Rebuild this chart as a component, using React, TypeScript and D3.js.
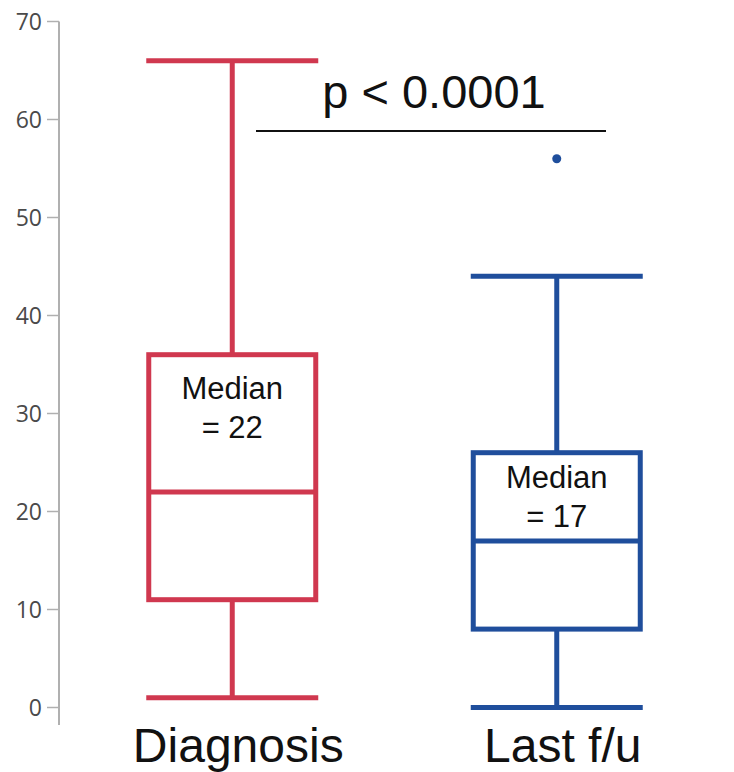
import React from "react";
import * as d3 from "d3";

// Box-plot summary for the two time points
const groups = ["Diagnosis", "Last f/u"];
const whiskerLow = [1, 0];
const q1 = [11, 8];
const medians = [22, 17];
const q3 = [36, 26];
const whiskerHigh = [66, 44];
const outliers = [[], [56]];
const colors = ["#d0384f", "#1f4e9c"];
const yTicks = [0, 10, 20, 30, 40, 50, 60, 70];
const pLabel = "p < 0.0001";

const W = 734;
const H = 772;

export default function App() {
  const y = d3.scaleLinear().domain([0, 70]).range([707.5, 21.5]);
  const x = d3.scaleBand<string>().domain(groups).range([70, 719]).padding(0);
  const bw = x.bandwidth();
  const boxW = 172;
  const axisX = 59;
  const labelOffsets = [44, 35];

  return (
    <svg
      width={W}
      height={H}
      viewBox={`0 0 ${W} ${H}`}
      style={{ position: "absolute", left: 0, top: 0, background: "#fff" }}
    >
      <rect x={0} y={0} width={W} height={H} fill="#fff" />

      {/* y axis */}
      <line x1={axisX} x2={axisX} y1={y(70)} y2={725} stroke="#b0b0b0" strokeWidth={2} />
      {yTicks.map((t) => (
        <g key={t}>
          <line x1={47} x2={axisX} y1={y(t)} y2={y(t)} stroke="#b0b0b0" strokeWidth={1.5} />
          <text
            x={42}
            y={y(t)}
            dy="0.36em"
            textAnchor="end"
            fontFamily="'Open Sans', sans-serif"
            fontSize={23}
            fill="#4a4a4a"
          >
            {t}
          </text>
        </g>
      ))}

      {/* boxes */}
      {groups.map((g, i) => {
        const cx = (x(g) as number) + bw / 2;
        const c = colors[i];
        const sw = 5;
        return (
          <g key={g}>
            <line x1={cx} x2={cx} y1={y(whiskerHigh[i])} y2={y(q3[i])} stroke={c} strokeWidth={sw} />
            <line x1={cx} x2={cx} y1={y(q1[i])} y2={y(whiskerLow[i])} stroke={c} strokeWidth={sw} />
            <line
              x1={cx - boxW / 2}
              x2={cx + boxW / 2}
              y1={y(whiskerHigh[i])}
              y2={y(whiskerHigh[i])}
              stroke={c}
              strokeWidth={sw}
            />
            <line
              x1={cx - boxW / 2}
              x2={cx + boxW / 2}
              y1={y(whiskerLow[i])}
              y2={y(whiskerLow[i])}
              stroke={c}
              strokeWidth={sw}
            />
            <rect
              x={cx - boxW / 2 + sw / 2}
              y={y(q3[i])}
              width={boxW - sw}
              height={y(q1[i]) - y(q3[i])}
              fill="#fff"
              stroke={c}
              strokeWidth={sw}
            />
            <line
              x1={cx - boxW / 2 + sw / 2}
              x2={cx + boxW / 2 - sw / 2}
              y1={y(medians[i])}
              y2={y(medians[i])}
              stroke={c}
              strokeWidth={sw}
            />
            {outliers[i].map((o, k) => (
              <circle key={k} cx={cx} cy={y(o)} r={4.5} fill={c} />
            ))}
            <text
              x={cx}
              y={y(q3[i]) + labelOffsets[i]}
              textAnchor="middle"
              fontFamily="'Liberation Sans', Arial, sans-serif"
              fontSize={31}
              fill="#111"
            >
              Median
            </text>
            <text
              x={cx}
              y={y(q3[i]) + labelOffsets[i] + 39}
              textAnchor="middle"
              fontFamily="'Liberation Sans', Arial, sans-serif"
              fontSize={31}
              fill="#111"
            >
              {`= ${medians[i]}`}
            </text>
            <text
              x={cx + 6}
              y={762}
              textAnchor="middle"
              fontFamily="'Liberation Sans', Arial, sans-serif"
              fontSize={48}
              fill="#111"
            >
              {g}
            </text>
          </g>
        );
      })}

      {/* significance bar */}
      <line x1={256} x2={606} y1={131} y2={131} stroke="#111" strokeWidth={2} />
      <text
        x={434}
        y={108}
        textAnchor="middle"
        fontFamily="'Liberation Sans', Arial, sans-serif"
        fontSize={47}
        fill="#111"
      >
        {pLabel}
      </text>
    </svg>
  );
}
